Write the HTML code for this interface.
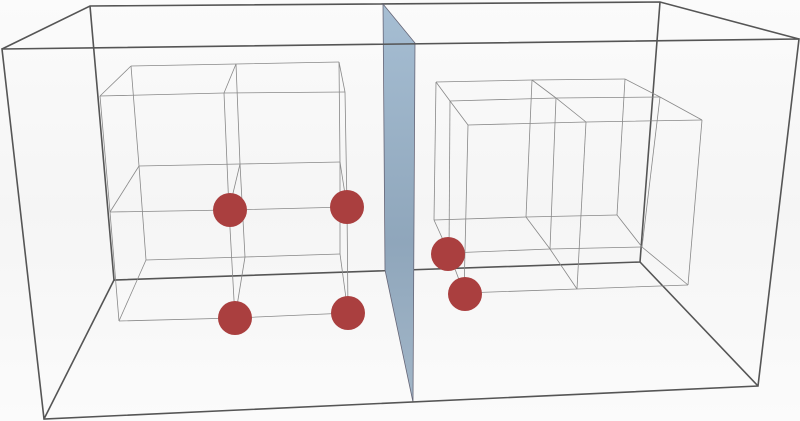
<!DOCTYPE html>
<html><head><style>html,body{margin:0;padding:0;background:#f9f9f9}svg{display:block}</style></head><body>
<svg width="800" height="421" viewBox="0 0 800 421" xmlns="http://www.w3.org/2000/svg">
<defs>
<linearGradient id="bg" x1="0" y1="0" x2="0" y2="1"><stop offset="0" stop-color="#fbfbfb"/><stop offset="0.5" stop-color="#f5f5f5"/><stop offset="1" stop-color="#fbfbfb"/></linearGradient>
<linearGradient id="pn" x1="0" y1="0" x2="0" y2="1"><stop offset="0" stop-color="#a6bed3"/><stop offset="0.6" stop-color="#8fa6bb"/><stop offset="1" stop-color="#a2b6c8"/></linearGradient>
</defs>
<rect width="800" height="421" fill="url(#bg)"/>
<g stroke="#555" stroke-width="1.6" fill="none">
<polyline points="2,49 90,6 660,2 799,39"/>
<polyline points="90,6 114,280 640,262 660,2"/>
<line x1="114" y1="280" x2="44" y2="419"/>
<line x1="640" y1="262" x2="758" y2="386"/>
</g>
<polygon points="383,4 415,43 413,402 385,270" fill="url(#pn)" stroke="#667" stroke-width="0.8"/>
<g stroke="#888" stroke-width="0.8" fill="none">
<polyline points="131,66 236,64 339,62"/><polyline points="100,96 224,93 345,92"/>
<polyline points="139,166 240,164 340,162"/><polyline points="110,212 229,210 347,207"/>
<polyline points="146,260 245,257 340,254"/><polyline points="119,321 235,318 348,313"/>
<polyline points="131,66 139,166 146,260"/><polyline points="236,64 240,164 245,257"/><polyline points="339,62 340,162 340,254"/>
<polyline points="100,96 110,212 119,321"/><polyline points="224,93 229,210 235,318"/><polyline points="345,92 347,207 348,313"/>
<line x1="131" y1="66" x2="100" y2="96"/><line x1="236" y1="64" x2="224" y2="93"/><line x1="339" y1="62" x2="345" y2="92"/>
<line x1="139" y1="166" x2="110" y2="212"/><line x1="240" y1="164" x2="229" y2="210"/><line x1="340" y1="162" x2="347" y2="207"/>
<line x1="146" y1="260" x2="119" y2="321"/><line x1="245" y1="257" x2="235" y2="318"/><line x1="340" y1="254" x2="348" y2="313"/>
</g>
<g stroke="#888" stroke-width="0.8" fill="none">
<polyline points="436,82 532,80 625,79"/><polyline points="450,101 556,98 660,97"/><polyline points="468,125 586,122 702,120"/>
<polyline points="434,220 526,217 617,215"/><polyline points="449,253 550,249 642,247"/><polyline points="464,293 577,289 688,285"/>
<line x1="436" y1="82" x2="434" y2="220"/><line x1="532" y1="80" x2="526" y2="217"/><line x1="625" y1="79" x2="617" y2="215"/>
<line x1="450" y1="101" x2="449" y2="253"/><line x1="556" y1="98" x2="550" y2="249"/><line x1="660" y1="97" x2="642" y2="247"/>
<line x1="468" y1="125" x2="464" y2="293"/><line x1="586" y1="122" x2="577" y2="289"/><line x1="702" y1="120" x2="688" y2="285"/>
<polyline points="436,82 450,101 468,125"/><polyline points="532,80 556,98 586,122"/><polyline points="625,79 660,97 702,120"/>
<polyline points="434,220 449,253 464,293"/><polyline points="526,217 550,249 577,289"/><polyline points="617,215 642,247 688,285"/>
</g>
<g stroke="#555" stroke-width="1.6" fill="none">
<polygon points="2,49 799,39 758,386 44,419"/>
</g>
<g fill="#aa3f3f">
<circle cx="230" cy="210" r="17"/><circle cx="347" cy="207" r="17"/>
<circle cx="235" cy="318" r="17"/><circle cx="348" cy="313" r="17"/>
<circle cx="448" cy="254" r="17"/><circle cx="465" cy="294" r="17"/>
</g>
</svg>
</body></html>
